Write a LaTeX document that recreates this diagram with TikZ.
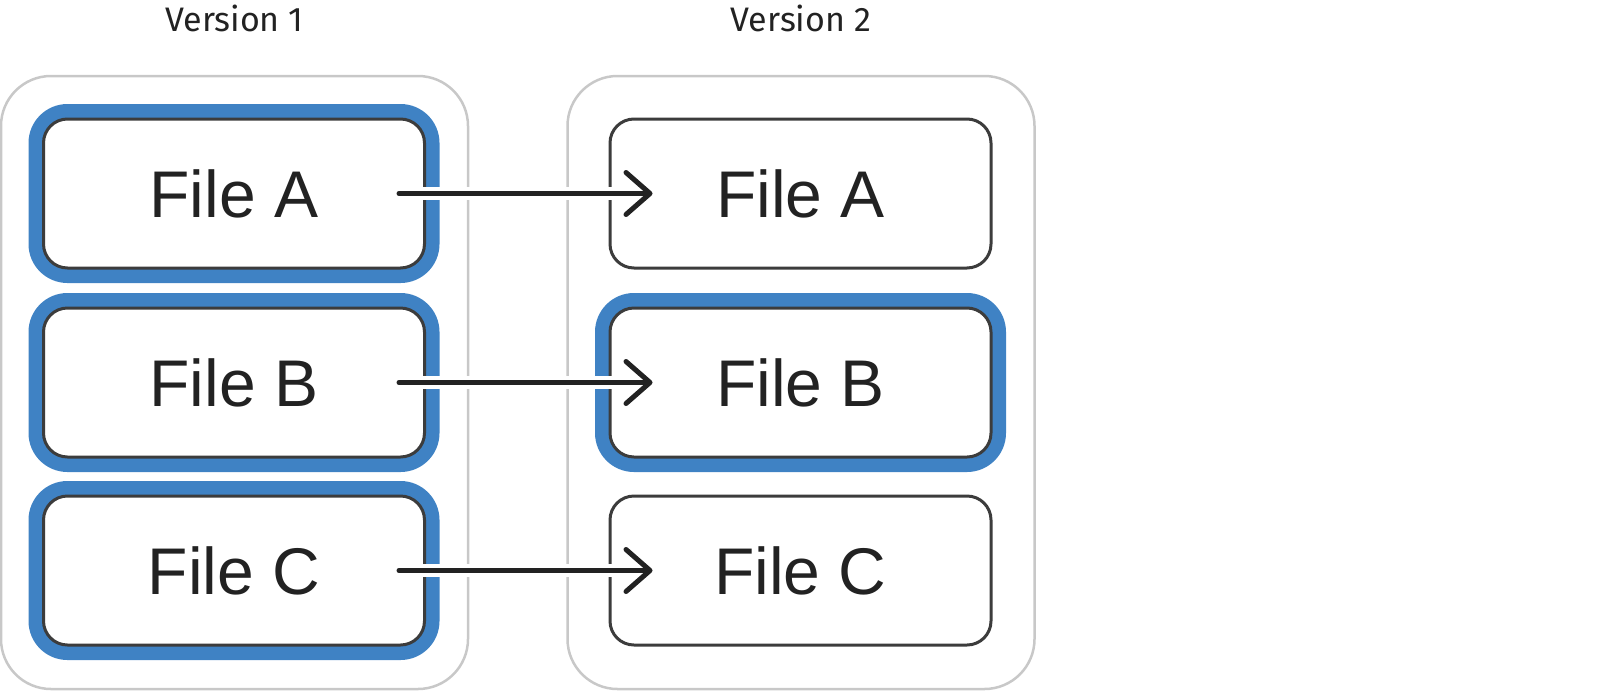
\documentclass[tikz,border=0pt]{standalone}
\usepackage{fontspec}
\usetikzlibrary{arrows.meta}
\newfontfamily\filefont{Liberation Sans}
\newfontfamily\versionfont{Fira Sans}
\definecolor{hlblue}{HTML}{3F82C4}
\definecolor{framegray}{HTML}{C8C8C8}
\definecolor{boxgray}{HTML}{3C3C3C}
\definecolor{ink}{HTML}{222222}
\begin{document}
\begin{tikzpicture}[x=1pt,y=-1pt,
    version/.style={draw=framegray,line width=2.5pt,rounded corners=50pt,minimum width=467pt,minimum height=613pt},
    highlight/.style={draw=hlblue,line width=15pt,rounded corners=31.5pt,minimum width=396pt,minimum height=164pt},
    filebox/.style={draw=boxgray,fill=white,line width=3pt,rounded corners=24pt,minimum width=381pt,minimum height=149pt,text=ink,font=\filefont\fontsize{66}{78}\selectfont},
    heading/.style={text=ink,font=\versionfont\fontsize{34}{40}\selectfont},
    link/.style={draw=ink,line width=5pt,line cap=round,-{Straight Barb[length=24pt,width=42pt,round]},preaction={draw=white,line width=13pt,-}}]
                \useasboundingbox (0,0) rectangle (1600,691);
                % the two versions
                \node[version] (v1) at (234.5,382.5) {};
                \node[version] (v2) at (801,382.5) {};
                \node[heading] (t1) at (234.5,18) {Version 1};
                \node[heading] (t2) at (801,18) {Version 2};
                % highlighted files
                \node[highlight] (h1) at (234,193.5) {};
                \node[highlight] (h2) at (234,382.5) {};
                \node[highlight] (h3) at (234,570.5) {};
                \node[highlight] (h4) at (800.5,382.5) {};
                % files
                \node[filebox] (a1) at (234,193.5) {File A};
                \node[filebox] (b1) at (234,382.5) {File B};
                \node[filebox] (c1) at (234,570.5) {File C};
                \node[filebox] (a2) at (800.5,193.5) {File A};
                \node[filebox] (b2) at (800.5,382.5) {File B};
                \node[filebox] (c2) at (800.5,570.5) {File C};
                % links
                \draw[link] ([xshift=-27pt]a1.east) -- ([xshift=44pt]a2.west);
                \draw[link] ([xshift=-27pt]b1.east) -- ([xshift=44pt]b2.west);
                \draw[link] ([xshift=-27pt]c1.east) -- ([xshift=44pt]c2.west);
            \end{tikzpicture}
\end{document}
